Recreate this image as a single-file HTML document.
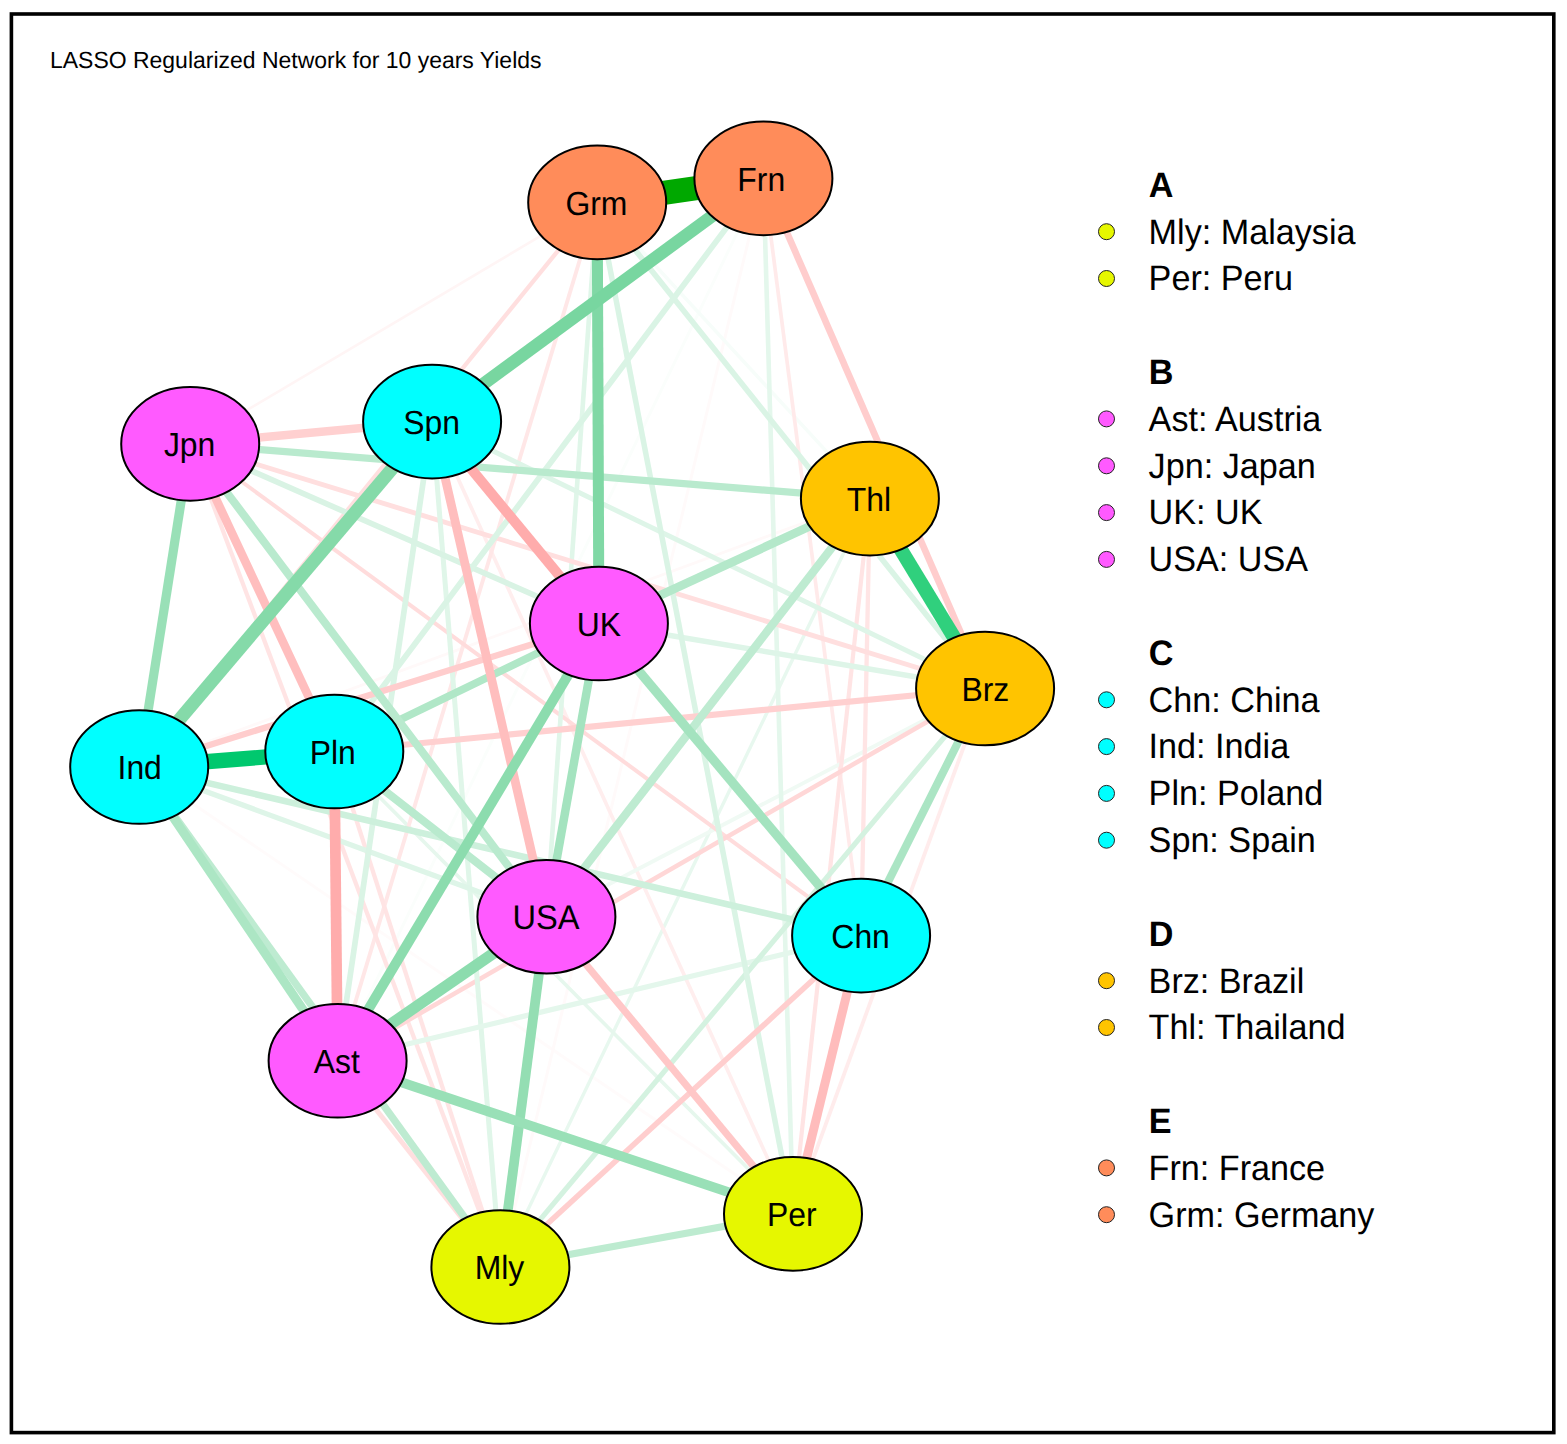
<!DOCTYPE html>
<html lang="en"><head><meta charset="utf-8"><title>LASSO Regularized Network for 10 years Yields</title>
<style>
html,body{margin:0;padding:0;background:#fff}
body{width:1567px;height:1444px;overflow:hidden}
svg{display:block}
text{font-family:"Liberation Sans",Arial,Helvetica,sans-serif;fill:#000;text-rendering:geometricPrecision}
.lab{font-size:31.9px;text-anchor:middle}
.leg{font-size:34.17px}
.hd{font-size:34.17px;font-weight:bold}
.nd{stroke:#000;stroke-width:2}
.dot{stroke:#222;stroke-width:1}
</style></head>
<body>
<svg width="1567" height="1444" viewBox="0 0 1567 1444">
<rect x="0" y="0" width="1567" height="1444" fill="#fff"/>
<rect x="11.4" y="14" width="1542.4" height="1418.6" fill="none" stroke="#000" stroke-width="3.6"/>
<text transform="translate(50.0,67.5) scale(1,1.015)" style="font-size:22.98px">LASSO Regularized Network for 10 years Yields</text>
<g stroke-linecap="butt" fill="none">
<line x1="597.2" y1="202.4" x2="190.2" y2="443.9" stroke="rgb(255,245,245)" stroke-width="2.6"/>
<line x1="139.2" y1="767.0" x2="869.9" y2="498.6" stroke="rgb(255,249,249)" stroke-width="2.8"/>
<line x1="763.4" y1="178.4" x2="337.6" y2="1060.8" stroke="rgb(251,254,252)" stroke-width="3.0"/>
<line x1="139.2" y1="767.0" x2="793.0" y2="1213.9" stroke="rgb(255,251,251)" stroke-width="3.0"/>
<line x1="763.4" y1="178.4" x2="500.4" y2="1267.0" stroke="rgb(255,250,250)" stroke-width="3.0"/>
<line x1="869.9" y1="498.6" x2="500.4" y2="1267.0" stroke="rgb(232,248,239)" stroke-width="3.4"/>
<line x1="597.2" y1="202.4" x2="869.9" y2="498.6" stroke="rgb(247,253,250)" stroke-width="3.5"/>
<line x1="334.3" y1="751.5" x2="793.0" y2="1213.9" stroke="rgb(230,247,237)" stroke-width="3.6"/>
<line x1="432.1" y1="421.6" x2="793.0" y2="1213.9" stroke="rgb(255,238,238)" stroke-width="3.7"/>
<line x1="763.4" y1="178.4" x2="861.1" y2="935.6" stroke="rgb(255,234,234)" stroke-width="3.7"/>
<line x1="985.1" y1="688.5" x2="546.4" y2="916.7" stroke="rgb(240,250,244)" stroke-width="3.8"/>
<line x1="985.1" y1="688.5" x2="793.0" y2="1213.9" stroke="rgb(255,236,236)" stroke-width="3.8"/>
<line x1="597.2" y1="202.4" x2="337.6" y2="1060.8" stroke="rgb(255,231,231)" stroke-width="3.9"/>
<line x1="190.2" y1="443.9" x2="861.1" y2="935.6" stroke="rgb(255,220,220)" stroke-width="4.0"/>
<line x1="869.9" y1="498.6" x2="793.0" y2="1213.9" stroke="rgb(255,228,228)" stroke-width="4.2"/>
<line x1="869.9" y1="498.6" x2="861.1" y2="935.6" stroke="rgb(255,229,229)" stroke-width="4.3"/>
<line x1="597.2" y1="202.4" x2="139.2" y2="767.0" stroke="rgb(255,223,223)" stroke-width="4.3"/>
<line x1="334.3" y1="751.5" x2="500.4" y2="1267.0" stroke="rgb(255,228,228)" stroke-width="4.3"/>
<line x1="190.2" y1="443.9" x2="500.4" y2="1267.0" stroke="rgb(255,228,228)" stroke-width="4.3"/>
<line x1="763.4" y1="178.4" x2="793.0" y2="1213.9" stroke="rgb(228,247,236)" stroke-width="4.6"/>
<line x1="597.2" y1="202.4" x2="546.4" y2="916.7" stroke="rgb(224,246,233)" stroke-width="4.6"/>
<line x1="985.1" y1="688.5" x2="337.6" y2="1060.8" stroke="rgb(255,215,215)" stroke-width="4.6"/>
<line x1="190.2" y1="443.9" x2="985.1" y2="688.5" stroke="rgb(255,223,223)" stroke-width="4.9"/>
<line x1="337.6" y1="1060.8" x2="500.4" y2="1267.0" stroke="rgb(255,223,223)" stroke-width="4.9"/>
<line x1="432.1" y1="421.6" x2="500.4" y2="1267.0" stroke="rgb(224,246,233)" stroke-width="5.0"/>
<line x1="432.1" y1="421.6" x2="985.1" y2="688.5" stroke="rgb(222,245,232)" stroke-width="5.0"/>
<line x1="861.1" y1="935.6" x2="337.6" y2="1060.8" stroke="rgb(228,247,236)" stroke-width="5.2"/>
<line x1="985.1" y1="688.5" x2="500.4" y2="1267.0" stroke="rgb(212,242,224)" stroke-width="5.2"/>
<line x1="139.2" y1="767.0" x2="546.4" y2="916.7" stroke="rgb(222,245,232)" stroke-width="5.3"/>
<line x1="598.9" y1="623.5" x2="985.1" y2="688.5" stroke="rgb(222,245,232)" stroke-width="5.5"/>
<line x1="597.2" y1="202.4" x2="793.0" y2="1213.9" stroke="rgb(218,244,229)" stroke-width="5.5"/>
<line x1="861.1" y1="935.6" x2="500.4" y2="1267.0" stroke="rgb(255,206,206)" stroke-width="5.5"/>
<line x1="597.2" y1="202.4" x2="985.1" y2="688.5" stroke="rgb(218,244,229)" stroke-width="5.6"/>
<line x1="432.1" y1="421.6" x2="337.6" y2="1060.8" stroke="rgb(218,244,229)" stroke-width="5.7"/>
<line x1="190.2" y1="443.9" x2="598.9" y2="623.5" stroke="rgb(217,243,228)" stroke-width="5.7"/>
<line x1="763.4" y1="178.4" x2="334.3" y2="751.5" stroke="rgb(218,244,229)" stroke-width="5.8"/>
<line x1="334.3" y1="751.5" x2="985.1" y2="688.5" stroke="rgb(255,208,208)" stroke-width="6.1"/>
<line x1="139.2" y1="767.0" x2="598.9" y2="623.5" stroke="rgb(255,205,205)" stroke-width="6.3"/>
<line x1="139.2" y1="767.0" x2="861.1" y2="935.6" stroke="rgb(205,240,220)" stroke-width="6.5"/>
<line x1="763.4" y1="178.4" x2="985.1" y2="688.5" stroke="rgb(255,205,205)" stroke-width="6.7"/>
<line x1="500.4" y1="1267.0" x2="793.0" y2="1213.9" stroke="rgb(189,235,208)" stroke-width="7.2"/>
<line x1="546.4" y1="916.7" x2="793.0" y2="1213.9" stroke="rgb(255,199,199)" stroke-width="7.2"/>
<line x1="190.2" y1="443.9" x2="869.9" y2="498.6" stroke="rgb(185,234,206)" stroke-width="7.2"/>
<line x1="139.2" y1="767.0" x2="500.4" y2="1267.0" stroke="rgb(190,235,209)" stroke-width="7.3"/>
<line x1="334.3" y1="751.5" x2="598.9" y2="623.5" stroke="rgb(176,231,199)" stroke-width="7.6"/>
<line x1="190.2" y1="443.9" x2="546.4" y2="916.7" stroke="rgb(185,234,206)" stroke-width="8.0"/>
<line x1="334.3" y1="751.5" x2="546.4" y2="916.7" stroke="rgb(185,234,206)" stroke-width="8.0"/>
<line x1="985.1" y1="688.5" x2="861.1" y2="935.6" stroke="rgb(171,229,196)" stroke-width="8.0"/>
<line x1="869.9" y1="498.6" x2="546.4" y2="916.7" stroke="rgb(190,235,209)" stroke-width="8.3"/>
<line x1="598.9" y1="623.5" x2="546.4" y2="916.7" stroke="rgb(164,227,191)" stroke-width="8.5"/>
<line x1="190.2" y1="443.9" x2="432.1" y2="421.6" stroke="rgb(255,208,208)" stroke-width="8.5"/>
<line x1="598.9" y1="623.5" x2="869.9" y2="498.6" stroke="rgb(180,232,202)" stroke-width="8.6"/>
<line x1="190.2" y1="443.9" x2="334.3" y2="751.5" stroke="rgb(255,190,190)" stroke-width="8.6"/>
<line x1="432.1" y1="421.6" x2="546.4" y2="916.7" stroke="rgb(255,190,190)" stroke-width="8.8"/>
<line x1="861.1" y1="935.6" x2="793.0" y2="1213.9" stroke="rgb(255,188,188)" stroke-width="8.9"/>
<line x1="139.2" y1="767.0" x2="337.6" y2="1060.8" stroke="rgb(172,230,196)" stroke-width="9.0"/>
<line x1="190.2" y1="443.9" x2="139.2" y2="767.0" stroke="rgb(153,224,183)" stroke-width="9.2"/>
<line x1="598.9" y1="623.5" x2="861.1" y2="935.6" stroke="rgb(164,227,191)" stroke-width="9.3"/>
<line x1="546.4" y1="916.7" x2="500.4" y2="1267.0" stroke="rgb(148,222,179)" stroke-width="9.8"/>
<line x1="337.6" y1="1060.8" x2="793.0" y2="1213.9" stroke="rgb(153,224,183)" stroke-width="9.8"/>
<line x1="598.9" y1="623.5" x2="337.6" y2="1060.8" stroke="rgb(140,220,174)" stroke-width="10.0"/>
<line x1="432.1" y1="421.6" x2="598.9" y2="623.5" stroke="rgb(255,172,172)" stroke-width="10.2"/>
<line x1="334.3" y1="751.5" x2="337.6" y2="1060.8" stroke="rgb(255,172,172)" stroke-width="10.7"/>
<line x1="597.2" y1="202.4" x2="598.9" y2="623.5" stroke="rgb(128,216,165)" stroke-width="11.0"/>
<line x1="546.4" y1="916.7" x2="337.6" y2="1060.8" stroke="rgb(140,220,174)" stroke-width="11.2"/>
<line x1="763.4" y1="178.4" x2="432.1" y2="421.6" stroke="rgb(120,214,160)" stroke-width="12.6"/>
<line x1="432.1" y1="421.6" x2="139.2" y2="767.0" stroke="rgb(133,218,169)" stroke-width="13.2"/>
<line x1="869.9" y1="498.6" x2="985.1" y2="688.5" stroke="rgb(48,208,125)" stroke-width="14.2"/>
<line x1="139.2" y1="767.0" x2="334.3" y2="751.5" stroke="rgb(0,200,110)" stroke-width="15.3"/>
<line x1="597.2" y1="202.4" x2="763.4" y2="178.4" stroke="rgb(0,168,0)" stroke-width="24.2"/>
</g>
<g>
<ellipse class="nd" cx="597.2" cy="202.4" rx="69.0" ry="56.8" fill="#FF8C5A"/>
<text class="lab" transform="translate(596.4,214.7) scale(1,1.05)">Grm</text>
<ellipse class="nd" cx="763.4" cy="178.4" rx="69.0" ry="56.8" fill="#FF8C5A"/>
<text class="lab" transform="translate(761.2,190.7) scale(1,1.05)">Frn</text>
<ellipse class="nd" cx="432.1" cy="421.6" rx="69.0" ry="56.8" fill="#00FFFF"/>
<text class="lab" transform="translate(431.6,433.9) scale(1,1.05)">Spn</text>
<ellipse class="nd" cx="190.2" cy="443.9" rx="69.0" ry="56.8" fill="#FF5AFF"/>
<text class="lab" transform="translate(189.6,456.2) scale(1,1.05)">Jpn</text>
<ellipse class="nd" cx="869.9" cy="498.6" rx="69.0" ry="56.8" fill="#FFC400"/>
<text class="lab" transform="translate(868.9,510.9) scale(1,1.05)">Thl</text>
<ellipse class="nd" cx="598.9" cy="623.5" rx="69.0" ry="56.8" fill="#FF5AFF"/>
<text class="lab" transform="translate(598.8,635.8) scale(1,1.05)">UK</text>
<ellipse class="nd" cx="985.1" cy="688.5" rx="69.0" ry="56.8" fill="#FFC400"/>
<text class="lab" transform="translate(985.3,700.8) scale(1,1.05)">Brz</text>
<ellipse class="nd" cx="139.2" cy="767.0" rx="69.0" ry="56.8" fill="#00FFFF"/>
<text class="lab" transform="translate(139.7,779.3) scale(1,1.05)">Ind</text>
<ellipse class="nd" cx="334.3" cy="751.5" rx="69.0" ry="56.8" fill="#00FFFF"/>
<text class="lab" transform="translate(332.8,763.8) scale(1,1.05)">Pln</text>
<ellipse class="nd" cx="546.4" cy="916.7" rx="69.0" ry="56.8" fill="#FF5AFF"/>
<text class="lab" style="font-size:32.6px" transform="translate(545.9,929.0) scale(1,1.05)">USA</text>
<ellipse class="nd" cx="861.1" cy="935.6" rx="69.0" ry="56.8" fill="#00FFFF"/>
<text class="lab" transform="translate(860.6,947.9) scale(1,1.05)">Chn</text>
<ellipse class="nd" cx="337.6" cy="1060.8" rx="69.0" ry="56.8" fill="#FF5AFF"/>
<text class="lab" transform="translate(336.8,1073.1) scale(1,1.05)">Ast</text>
<ellipse class="nd" cx="793.0" cy="1213.9" rx="69.0" ry="56.8" fill="#E6F700"/>
<text class="lab" transform="translate(791.7,1226.2) scale(1,1.05)">Per</text>
<ellipse class="nd" cx="500.4" cy="1267.0" rx="69.0" ry="56.8" fill="#E6F700"/>
<text class="lab" transform="translate(499.5,1279.3) scale(1,1.05)">Mly</text>
</g>
<g>
<text class="hd" transform="translate(1148.8,196.6) scale(1,1.035)">A</text>
<circle class="dot" cx="1106.5" cy="231.7" r="8" fill="#E6F700"/>
<text class="leg" transform="translate(1148.6,243.5) scale(1,1.035)">Mly: Malaysia</text>
<circle class="dot" cx="1106.5" cy="278.5" r="8" fill="#E6F700"/>
<text class="leg" transform="translate(1148.6,290.3) scale(1,1.035)">Per: Peru</text>
<text class="hd" transform="translate(1148.8,383.8) scale(1,1.035)">B</text>
<circle class="dot" cx="1106.5" cy="418.9" r="8" fill="#FF5AFF"/>
<text class="leg" transform="translate(1148.6,430.8) scale(1,1.035)">Ast: Austria</text>
<circle class="dot" cx="1106.5" cy="465.8" r="8" fill="#FF5AFF"/>
<text class="leg" transform="translate(1148.6,477.6) scale(1,1.035)">Jpn: Japan</text>
<circle class="dot" cx="1106.5" cy="512.6" r="8" fill="#FF5AFF"/>
<text class="leg" transform="translate(1148.6,524.4) scale(1,1.035)">UK: UK</text>
<circle class="dot" cx="1106.5" cy="559.4" r="8" fill="#FF5AFF"/>
<text class="leg" transform="translate(1148.6,571.2) scale(1,1.035)">USA: USA</text>
<text class="hd" transform="translate(1148.8,664.7) scale(1,1.035)">C</text>
<circle class="dot" cx="1106.5" cy="699.8" r="8" fill="#00FFFF"/>
<text class="leg" transform="translate(1148.6,711.6) scale(1,1.035)">Chn: China</text>
<circle class="dot" cx="1106.5" cy="746.6" r="8" fill="#00FFFF"/>
<text class="leg" transform="translate(1148.6,758.4) scale(1,1.035)">Ind: India</text>
<circle class="dot" cx="1106.5" cy="793.4" r="8" fill="#00FFFF"/>
<text class="leg" transform="translate(1148.6,805.2) scale(1,1.035)">Pln: Poland</text>
<circle class="dot" cx="1106.5" cy="840.2" r="8" fill="#00FFFF"/>
<text class="leg" transform="translate(1148.6,852.0) scale(1,1.035)">Spn: Spain</text>
<text class="hd" transform="translate(1148.8,945.6) scale(1,1.035)">D</text>
<circle class="dot" cx="1106.5" cy="980.7" r="8" fill="#FFC400"/>
<text class="leg" transform="translate(1148.6,992.5) scale(1,1.035)">Brz: Brazil</text>
<circle class="dot" cx="1106.5" cy="1027.5" r="8" fill="#FFC400"/>
<text class="leg" transform="translate(1148.6,1039.3) scale(1,1.035)">Thl: Thailand</text>
<text class="hd" transform="translate(1148.8,1132.8) scale(1,1.035)">E</text>
<circle class="dot" cx="1106.5" cy="1167.9" r="8" fill="#FF8C5A"/>
<text class="leg" transform="translate(1148.6,1179.7) scale(1,1.035)">Frn: France</text>
<circle class="dot" cx="1106.5" cy="1214.7" r="8" fill="#FF8C5A"/>
<text class="leg" transform="translate(1148.6,1226.5) scale(1,1.035)">Grm: Germany</text>
</g>
</svg>
</body></html>
